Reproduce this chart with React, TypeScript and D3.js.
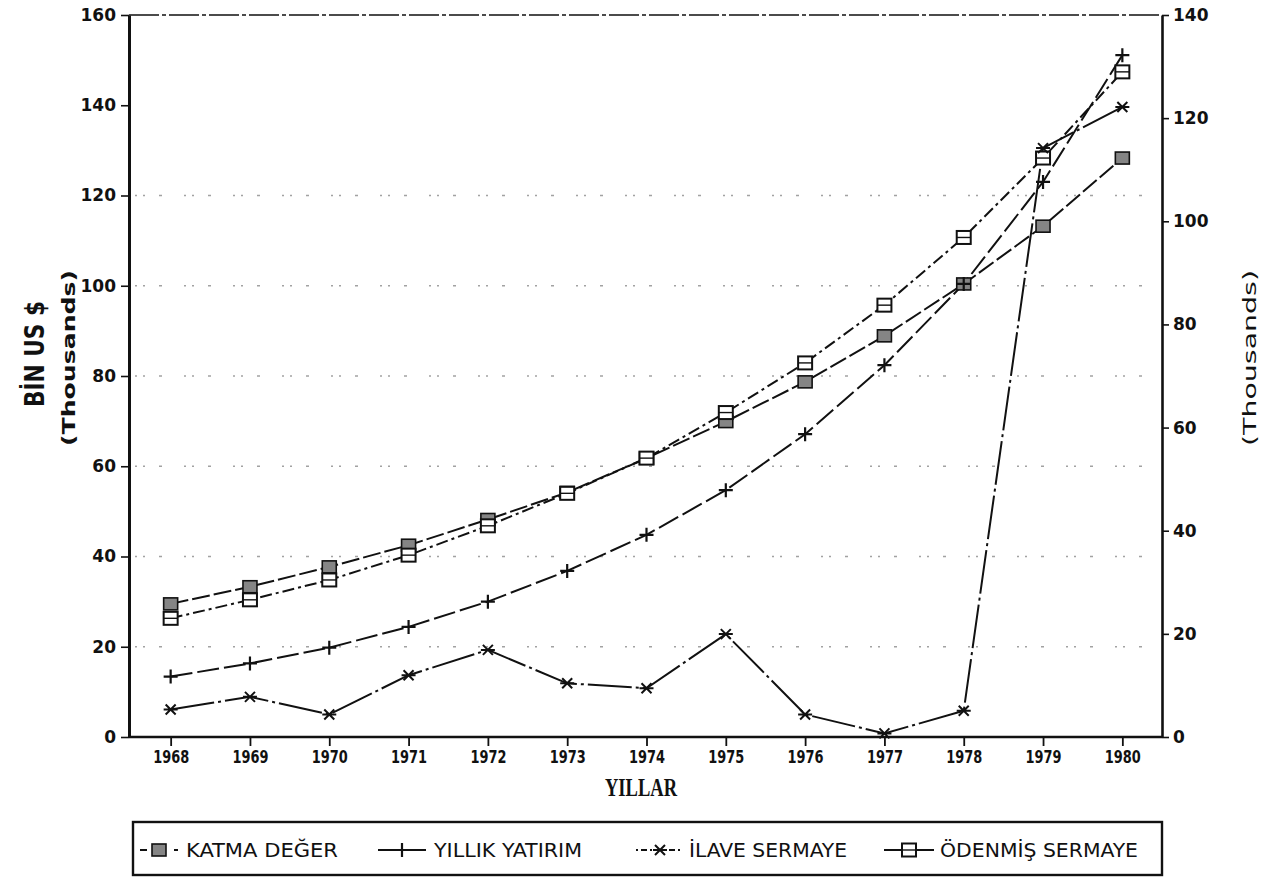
import React, { useEffect, useRef } from "react";
import * as d3 from "d3";

// values (thousand US $)
const years = ["1968", "1969", "1970", "1971", "1972", "1973", "1974", "1975", "1976", "1977", "1978", "1979", "1980"];
const katmaDeger = [29.5, 33.3, 37.7, 42.5, 48.2, 54.2, 61.8, 69.9, 78.7, 88.9, 100.4, 113.2, 128.3];
const yillikYatirim = [13.4, 16.3, 19.8, 24.4, 30.0, 36.8, 44.8, 54.7, 67.1, 82.4, 100.4, 123.0, 151.1];
const ilaveSermaye = [6.1, 8.9, 5.0, 13.7, 19.3, 11.9, 10.8, 22.8, 5.0, 0.8, 5.8, 130.5, 139.6];
const odenmisSermaye = [26.3, 30.4, 34.8, 40.3, 46.8, 54.0, 61.8, 71.9, 82.9, 95.7, 110.7, 128.3, 147.4];

const leftTicks = [0, 20, 40, 60, 80, 100, 120, 140, 160];
const rightTicks = [0, 20, 40, 60, 80, 100, 120, 140];
const gridValues = [20, 40, 60, 80, 100, 120];

const legendNames = ["KATMA DEĞER", "YILLIK YATIRIM", "İLAVE SERMAYE", "ÖDENMİŞ SERMAYE"];

const W = 1269,
  H = 880;
const plot = { left: 129, right: 1162, top: 15, bottom: 737 };

const numFont = "'DejaVu Sans', 'Noto Sans', sans-serif";
const narrowFont = "'DejaVu Sans Condensed', 'Liberation Sans Narrow', 'DejaVu Sans', sans-serif";

type Marker = "filled" | "plus" | "star" | "open";

function drawMarker(g: any, kind: Marker, cx: number, cy: number) {
  if (kind === "filled") {
    g.append("rect")
      .attr("x", cx - 7)
      .attr("y", cy - 6)
      .attr("width", 14)
      .attr("height", 12)
      .attr("fill", "#858585")
      .attr("stroke", "#111")
      .attr("stroke-width", 1.6);
  } else if (kind === "open") {
    g.append("rect")
      .attr("x", cx - 7)
      .attr("y", cy - 6.5)
      .attr("width", 14)
      .attr("height", 13)
      .attr("fill", "#fff")
      .attr("stroke", "#111")
      .attr("stroke-width", 2);
    g.append("line")
      .attr("x1", cx - 7)
      .attr("x2", cx + 7)
      .attr("y1", cy)
      .attr("y2", cy)
      .attr("stroke", "#111")
      .attr("stroke-width", 1.4);
  } else if (kind === "plus") {
    g.append("path")
      .attr("d", `M${cx - 7},${cy}H${cx + 7}M${cx},${cy - 7}V${cy + 7}`)
      .attr("stroke", "#111")
      .attr("stroke-width", 2.2)
      .attr("fill", "none");
  } else {
    g.append("path")
      .attr(
        "d",
        `M${cx - 5},${cy - 5}L${cx + 5},${cy + 5}M${cx - 5},${cy + 5}L${cx + 5},${cy - 5}M${cx - 7},${cy}H${cx + 7}`
      )
      .attr("stroke", "#111")
      .attr("stroke-width", 2)
      .attr("fill", "none");
  }
}

export default function App(): JSX.Element {
  const svgRef = useRef<SVGSVGElement>(null);

  useEffect(() => {
    if (!svgRef.current) return;
    const svg = d3.select(svgRef.current);
    svg.selectAll("*").remove();

    const x = d3.scalePoint<string>().domain(years).range([131, plot.right]).padding(0.5);
    const yL = d3.scaleLinear().domain([0, 160]).range([plot.bottom, plot.top]);
    const yR = d3.scaleLinear().domain([0, 140]).range([plot.bottom, plot.top]);

    // faint dotted grid
    svg
      .append("g")
      .selectAll("line")
      .data(gridValues)
      .enter()
      .append("line")
      .attr("x1", plot.left + 6)
      .attr("x2", plot.right - 6)
      .attr("y1", (d) => yL(d))
      .attr("y2", (d) => yL(d))
      .attr("stroke", "#333")
      .attr("stroke-width", 1.3)
      .attr("stroke-dasharray", "2,6,2,14,3,22")
      .attr("opacity", 0.45);

    // top frame line
    svg
      .append("line")
      .attr("x1", plot.left)
      .attr("x2", plot.right)
      .attr("y1", plot.top)
      .attr("y2", plot.top)
      .attr("stroke", "#111")
      .attr("stroke-width", 1.6)
      .attr("stroke-dasharray", "30,3,4,3");

    // left axis
    const gl = svg
      .append("g")
      .attr("transform", `translate(${plot.left},0)`)
      .call(d3.axisLeft(yL).tickValues(leftTicks).tickSize(8).tickPadding(5).tickSizeOuter(0));
    gl.select(".domain").attr("stroke", "#111").attr("stroke-width", 3);
    gl.selectAll(".tick line").attr("stroke", "#111").attr("stroke-width", 1.6);
    gl.selectAll("text")
      .attr("font-family", numFont)
      .attr("font-weight", "bold")
      .attr("font-size", 17)
      .attr("fill", "#111");

    // right axis
    const gr = svg
      .append("g")
      .attr("transform", `translate(${plot.right},0)`)
      .call(d3.axisRight(yR).tickValues(rightTicks).tickSize(7).tickPadding(4).tickSizeOuter(0));
    gr.select(".domain").attr("stroke", "#111").attr("stroke-width", 2.6);
    gr.selectAll(".tick line").attr("stroke", "#111").attr("stroke-width", 1.6);
    gr.selectAll("text")
      .attr("font-family", numFont)
      .attr("font-weight", "bold")
      .attr("font-size", 17)
      .attr("fill", "#111");

    // bottom axis
    const gb = svg
      .append("g")
      .attr("transform", `translate(0,${plot.bottom})`)
      .call(d3.axisBottom(x).tickSize(9).tickPadding(5).tickSizeOuter(0));
    gb.select(".domain")
      .attr("d", `M${plot.left},0H${plot.right}`)
      .attr("stroke", "#111")
      .attr("stroke-width", 2.6);
    gb.selectAll(".tick line").attr("stroke", "#111").attr("stroke-width", 1.8);
    gb.selectAll("text")
      .attr("font-family", narrowFont)
      .attr("font-weight", "bold")
      .attr("font-size", 17)
      .attr("fill", "#111")
      .attr("textLength", 36)
      .attr("lengthAdjust", "spacingAndGlyphs");

    // axis titles
    svg
      .append("text")
      .attr("transform", "translate(44,354) rotate(-90)")
      .attr("text-anchor", "middle")
      .attr("font-family", narrowFont)
      .attr("font-weight", "bold")
      .attr("font-size", 26)
      .attr("fill", "#111")
      .attr("textLength", 106)
      .attr("lengthAdjust", "spacingAndGlyphs")
      .text("BİN US $");
    svg
      .append("text")
      .attr("transform", "translate(75,358) rotate(-90)")
      .attr("text-anchor", "middle")
      .attr("font-family", numFont)
      .attr("font-weight", 600)
      .attr("font-size", 18)
      .attr("fill", "#111")
      .attr("textLength", 176)
      .attr("lengthAdjust", "spacingAndGlyphs")
      .text("(Thousands)");
    svg
      .append("text")
      .attr("transform", "translate(1256,358) rotate(-90)")
      .attr("text-anchor", "middle")
      .attr("font-family", numFont)
      .attr("font-size", 18)
      .attr("fill", "#111")
      .attr("textLength", 176)
      .attr("lengthAdjust", "spacingAndGlyphs")
      .text("(Thousands)");
    svg
      .append("text")
      .attr("x", 641)
      .attr("y", 796)
      .attr("text-anchor", "middle")
      .attr("font-family", "'Liberation Serif', 'DejaVu Serif', serif")
      .attr("font-weight", "bold")
      .attr("font-size", 25)
      .attr("fill", "#111")
      .attr("textLength", 72)
      .attr("lengthAdjust", "spacingAndGlyphs")
      .text("YILLAR");

    // series
    const series = [
      { values: katmaDeger, dash: "18,4", marker: "filled" as Marker },
      { values: odenmisSermaye, dash: "12,4,3,4", marker: "open" as Marker },
      { values: yillikYatirim, dash: "22,5", marker: "plus" as Marker },
      { values: ilaveSermaye, dash: "44,4,3,4", marker: "star" as Marker },
    ];

    const line = d3
      .line<number>()
      .x((d, i) => x(years[i]) as number)
      .y((d) => yL(d));

    series.forEach((s) => {
      svg
        .append("path")
        .datum(s.values)
        .attr("d", line)
        .attr("fill", "none")
        .attr("stroke", "#111")
        .attr("stroke-width", 2)
        .attr("stroke-dasharray", s.dash);
    });
    series.forEach((s) => {
      const g = svg.append("g");
      s.values.forEach((v, i) => drawMarker(g, s.marker, x(years[i]) as number, yL(v)));
    });

    // legend
    const lg = svg.append("g");
    lg.append("rect")
      .attr("x", 133)
      .attr("y", 822)
      .attr("width", 1029)
      .attr("height", 53)
      .attr("fill", "none")
      .attr("stroke", "#111")
      .attr("stroke-width", 2.4);

    const legendItems = [
      { name: legendNames[0], marker: "filled" as Marker, x1: 140, x2: 178, cx: 159, tx: 186, tl: 152, dash: "7,10" },
      { name: legendNames[1], marker: "plus" as Marker, x1: 378, x2: 426, cx: 402, tx: 434, tl: 148, dash: "none" },
      { name: legendNames[2], marker: "star" as Marker, x1: 636, x2: 682, cx: 660, tx: 689, tl: 158, dash: "2,3,6,3" },
      { name: legendNames[3], marker: "open" as Marker, x1: 884, x2: 934, cx: 909, tx: 940, tl: 198, dash: "none" },
    ];
    legendItems.forEach((it) => {
      lg.append("line")
        .attr("x1", it.x1)
        .attr("x2", it.x2)
        .attr("y1", 850)
        .attr("y2", 850)
        .attr("stroke", "#111")
        .attr("stroke-width", 2)
        .attr("stroke-dasharray", it.dash);
      drawMarker(lg, it.marker, it.cx, 850);
      lg.append("text")
        .attr("x", it.tx)
        .attr("y", 857)
        .attr("font-family", narrowFont)
        .attr("font-size", 19)
        .attr("fill", "#111")
        .attr("textLength", it.tl)
        .attr("lengthAdjust", "spacingAndGlyphs")
        .text(it.name);
    });
  }, []);

  return (
    <svg
      ref={svgRef}
      width={W}
      height={H}
      style={{ position: "absolute", left: 0, top: 0, background: "#fff" }}
    ></svg>
  );
}
